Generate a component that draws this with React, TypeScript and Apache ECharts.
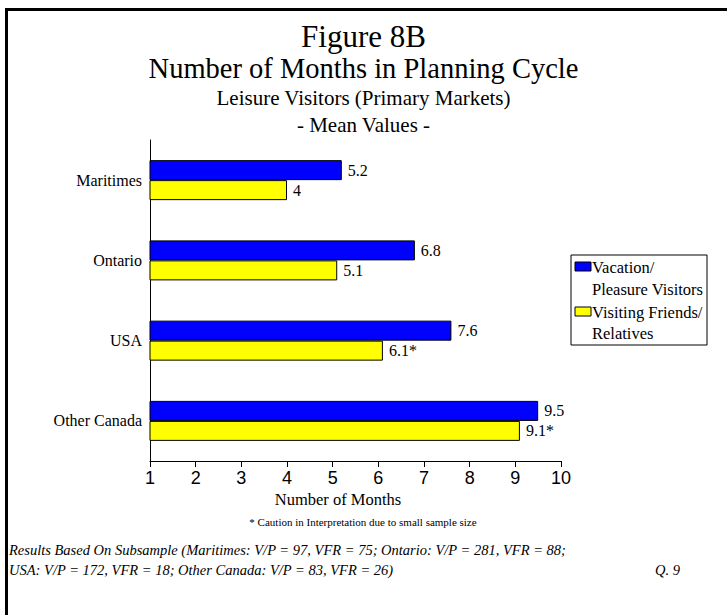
import React, { useEffect, useRef } from "react";
import * as echarts from "echarts";

const categories = ["Maritimes", "Ontario", "USA", "Other Canada"];
const vacationValues = [5.2, 6.8, 7.6, 9.5];
const vfrValues = [4, 5.1, 6.1, 9.1];
const vacationLabels = ["5.2", "6.8", "7.6", "9.5"];
const vfrLabels = ["4", "5.1", "6.1*", "9.1*"];
const seriesNames = ["Vacation/ Pleasure Visitors", "Visiting Friends/ Relatives"];

const SERIF = "'Liberation Serif', 'Times New Roman', serif";
const SANS = "'Liberation Sans', Arial, sans-serif";

export default function App() {
  const ref = useRef<HTMLDivElement>(null);
  useEffect(() => {
    document.body.style.margin = "0";
    const chart = echarts.init(ref.current!, null, { renderer: "svg" });
    const labelStyle = {
      show: true,
      position: "right" as const,
      distance: 6,
      color: "#000",
      fontFamily: SERIF,
      fontSize: 16,
    };
    const t = (text: string, x: number, y: number, size: number, extra: any = {}) => ({
      type: "text",
      x,
      y,
      style: { text, fontFamily: SERIF, fontSize: size, fill: "#000", verticalAlign: "middle", ...extra },
    });
    chart.setOption({
      animation: false,
      backgroundColor: "#fff",
      grid: { left: 150, right: 727 - 561, top: 140, bottom: 615 - 461, containLabel: false },
      xAxis: {
        type: "value",
        min: 1,
        max: 10,
        interval: 1,
        axisLine: { show: true, lineStyle: { color: "#000", width: 1 } },
        axisTick: { show: true, length: 6, lineStyle: { color: "#000" } },
        axisLabel: { fontFamily: SANS, fontSize: 18, color: "#000", margin: 8 },
        splitLine: { show: false },
      },
      yAxis: {
        type: "category",
        data: categories,
        inverse: true,
        axisLine: { show: true, lineStyle: { color: "#000", width: 1 } },
        axisTick: { show: false },
        axisLabel: { fontFamily: SERIF, fontSize: 16, color: "#000", margin: 8 },
      },
      series: [
        {
          name: seriesNames[0],
          type: "bar",
          data: vacationValues,
          barWidth: 20,
          barGap: "0%",
          itemStyle: { color: "#0000ff", borderColor: "#000", borderWidth: 1 },
          label: { ...labelStyle, formatter: (p: any) => vacationLabels[p.dataIndex] },
        },
        {
          name: seriesNames[1],
          type: "bar",
          data: vfrValues,
          barWidth: 20,
          barGap: "0%",
          itemStyle: { color: "#ffff00", borderColor: "#000", borderWidth: 1 },
          label: { ...labelStyle, formatter: (p: any) => vfrLabels[p.dataIndex] },
        },
      ],
      graphic: [
        { type: "rect", shape: { x: 6.5, y: 9.5, width: 800, height: 700 }, style: { fill: "none", stroke: "#000", lineWidth: 3 }, silent: true },
        t("Figure 8B", 363.5, 36, 31, { align: "center" }),
        t("Number of Months in Planning Cycle", 363.5, 68, 28.5, { align: "center" }),
        t("Leisure Visitors (Primary Markets)", 363.5, 98, 21, { align: "center" }),
        t("- Mean Values -", 363.5, 125, 21, { align: "center" }),
        t("Number of Months", 338, 499, 16.5, { align: "center" }),
        { type: "rect", shape: { x: 571, y: 255, width: 136, height: 90 }, style: { fill: "#fff", stroke: "#000", lineWidth: 1 } },
        { type: "rect", shape: { x: 575, y: 262, width: 16, height: 9 }, style: { fill: "#0000ff", stroke: "#000", lineWidth: 1 } },
        t("Vacation/", 592, 267, 16.5),
        t("Pleasure Visitors", 592, 289, 16.5),
        { type: "rect", shape: { x: 575, y: 307, width: 16, height: 9 }, style: { fill: "#ffff00", stroke: "#000", lineWidth: 1 } },
        t("Visiting Friends/", 592, 312, 16.5),
        t("Relatives", 592, 333, 16.5),
        t("* Caution in Interpretation due to small sample size", 363, 522, 11, { align: "center" }),
        t("Results Based On Subsample (Maritimes: V/P = 97, VFR = 75; Ontario: V/P = 281, VFR = 88;", 9, 550, 14.5, { fontStyle: "italic" }),
        t("USA: V/P = 172, VFR = 18; Other Canada: V/P = 83, VFR = 26)", 9, 570, 14.5, { fontStyle: "italic" }),
        t("Q. 9", 655, 570, 14.5, { fontStyle: "italic" }),
      ],
    });
    return () => chart.dispose();
  }, []);
  return <div ref={ref} style={{ width: 727, height: 615 }} />;
}
